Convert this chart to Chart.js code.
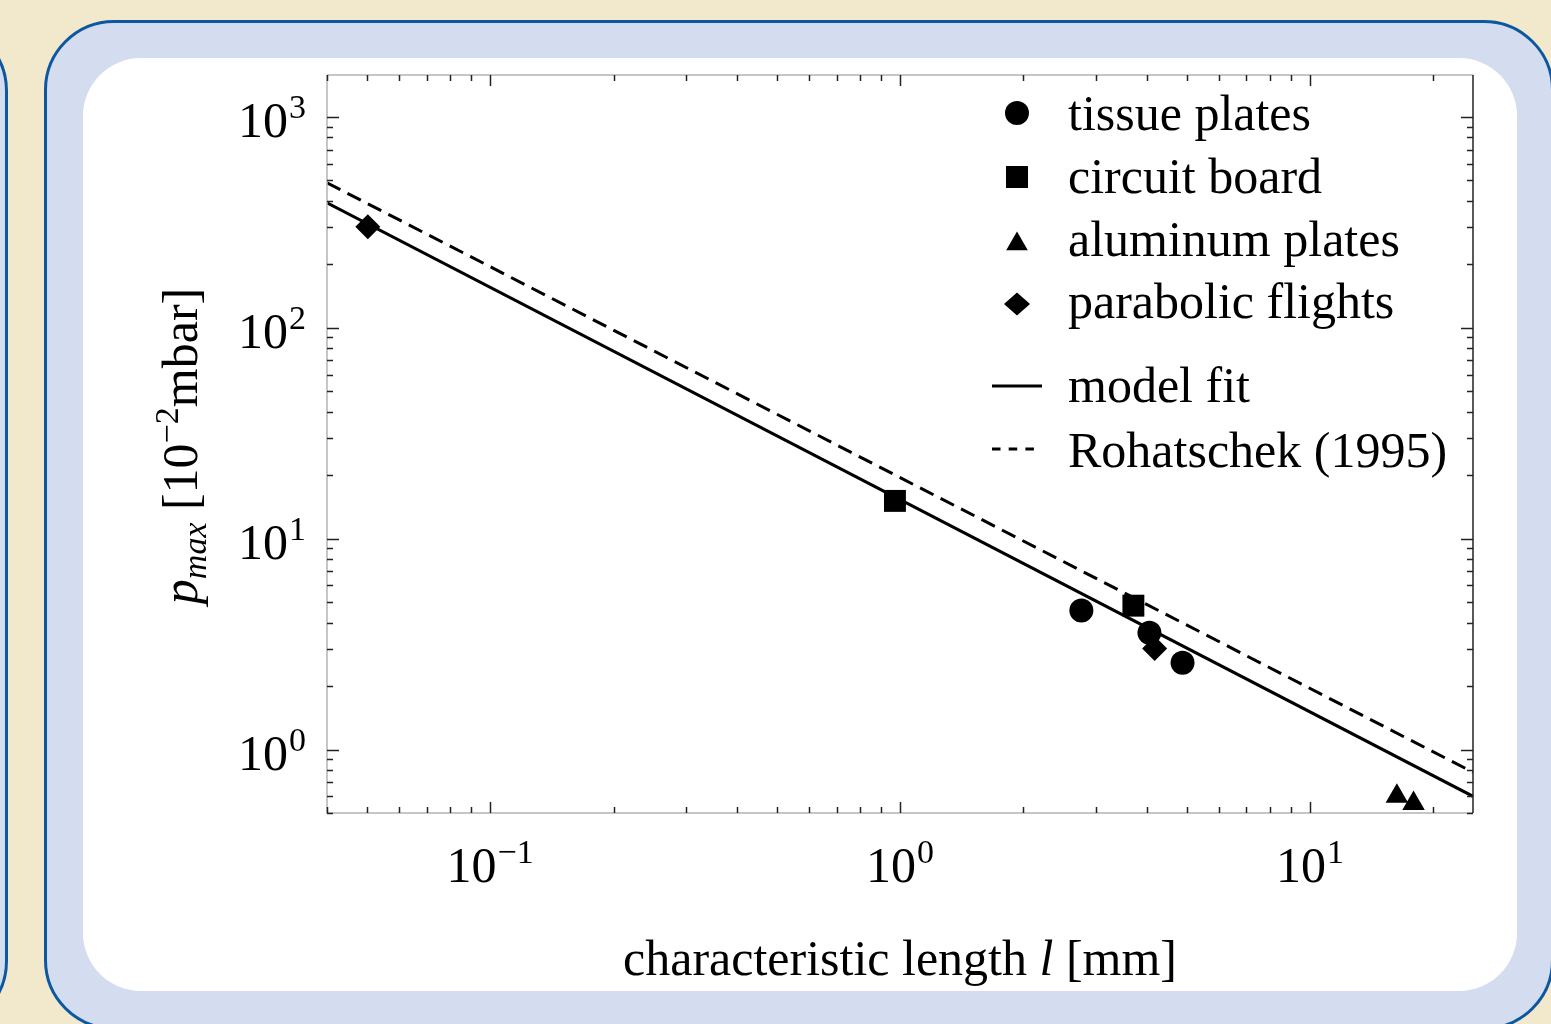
<!DOCTYPE html>
<html lang="en">
<head>
<meta charset="UTF-8">
<title>p_max vs characteristic length</title>
<style>
    body {
        margin: 0;
        width: 1551px;
        height: 1024px;
        overflow: hidden;
        background: #f2e8cb;
        position: relative;
    }
    .panel {
        position: absolute;
        box-sizing: border-box;
        background: #d4ddef;
        border: 3px solid #0c57a2;
        border-radius: 70px;
    }
    .inner {
        position: absolute;
        background: #fff;
        border-radius: 58px;
    }
    #chart {
        position: absolute;
        left: 0;
        top: 0;
    }
</style>
<script src="https://cdn.jsdelivr.net/npm/chart.js@4.4.0/dist/chart.umd.min.js"></script>
</head>
<body>
<div class="panel" style="left:-1000px; top:21px; width:1008px; height:1010px;"></div>
<div class="panel" style="left:44px; top:20px; width:1510px; height:1010px;"></div>
<div class="inner" style="left:83px; top:58px; width:1434px; height:933px;"></div>
<canvas id="chart" width="1551" height="1024"></canvas>
<script>
    // values (mm, 10^-2 mbar)
    const tissueX = [2.77, 4.06, 4.89];
    const tissueY = [4.56, 3.58, 2.58];
    const circuitX = [0.972, 3.71];
    const circuitY = [15.1, 4.81];
    const aluminumX = [16.3, 17.9];
    const aluminumY = [0.60, 0.555];
    const parabolicX = [0.0503, 4.18];
    const parabolicY = [301, 3.01];

    const fitX = [0.04, 25];
    const fitY = [391, 0.6];
    const rohatschekY = [487, 0.78];

    const xMajor = [0.1, 1, 10];
    const xMajorExp = ["\u22121", "0", "1"];
    const yMajor = [1, 10, 100, 1000];
    const yMajorExp = ["0", "1", "2", "3"];

    const legendLabels = ["tissue plates", "circuit board", "aluminum plates", "parabolic flights", "model fit", "Rohatschek (1995)"];

    const SERIF = "'Liberation Serif', 'Times New Roman', serif";

    function pts(xs, ys) {
        return xs.map((x, i) => ({ x: x, y: ys[i] }));
    }

    function marker(ctx, style, x, y, r) {
        ctx.beginPath();
        if (style === "circle") {
            ctx.arc(x, y, r, 0, Math.PI * 2);
        } else if (style === "rect") {
            ctx.rect(x - r, y - r, 2 * r, 2 * r);
        } else if (style === "triangle") {
            ctx.moveTo(x, y - r);
            ctx.lineTo(x + r * 0.866, y + r * 0.5);
            ctx.lineTo(x - r * 0.866, y + r * 0.5);
            ctx.closePath();
        } else {
            ctx.moveTo(x, y - r * 0.88);
            ctx.lineTo(x + r, y);
            ctx.lineTo(x, y + r * 0.88);
            ctx.lineTo(x - r, y);
            ctx.closePath();
        }
        ctx.fill();
    }

    // "10" with a superscript exponent; align: 'center' or 'right'
    function drawPower(ctx, exp, x, y, align) {
        ctx.font = "50px " + SERIF;
        const wb = ctx.measureText("10").width;
        ctx.font = "34px " + SERIF;
        const we = ctx.measureText(exp).width;
        const total = wb + we + 1;
        let x0 = align === "center" ? x - total / 2 : x - total;
        ctx.textAlign = "left";
        ctx.textBaseline = "alphabetic";
        ctx.font = "50px " + SERIF;
        ctx.fillText("10", x0, y);
        ctx.font = "34px " + SERIF;
        ctx.fillText(exp, x0 + wb + 1, y - 19);
    }

    function logTicks(min, max) {
        const out = [];
        for (let e = Math.floor(Math.log10(min)); e <= Math.ceil(Math.log10(max)); e++) {
            for (let m = 1; m <= 9; m++) {
                const v = m * Math.pow(10, e);
                if (v >= min * 0.999 && v <= max * 1.001) out.push({ v: v, major: m === 1 });
            }
        }
        return out;
    }

    const framePlugin = {
        id: "framePlugin",
        afterDraw(chart) {
            const ctx = chart.ctx;
            const a = chart.chartArea;
            const xs = chart.scales.x;
            const ys = chart.scales.y;
            ctx.save();

            // frame
            ctx.lineWidth = 1.5;
            ctx.strokeStyle = "#b4b4b4";
            ctx.beginPath();
            ctx.moveTo(a.left, a.top);
            ctx.lineTo(a.right, a.top);
            ctx.moveTo(a.left, a.top);
            ctx.lineTo(a.left, a.bottom);
            ctx.lineTo(a.right, a.bottom);
            ctx.stroke();
            ctx.strokeStyle = "#222";
            ctx.beginPath();
            ctx.moveTo(a.right, a.top);
            ctx.lineTo(a.right, a.bottom);
            ctx.stroke();

            // ticks
            ctx.strokeStyle = "#222";
            ctx.lineWidth = 1.5;
            ctx.beginPath();
            logTicks(xs.min, xs.max).forEach(t => {
                const px = Math.round(xs.getPixelForValue(t.v)) + 0.5;
                const len = t.major ? 11 : 6;
                ctx.moveTo(px, a.bottom);
                ctx.lineTo(px, a.bottom - len);
                ctx.moveTo(px, a.top);
                ctx.lineTo(px, a.top + len);
            });
            logTicks(ys.min, ys.max).forEach(t => {
                const py = Math.round(ys.getPixelForValue(t.v)) + 0.5;
                const len = t.major ? 12 : 6;
                ctx.moveTo(a.left, py);
                ctx.lineTo(a.left + len, py);
                ctx.moveTo(a.right, py);
                ctx.lineTo(a.right - len, py);
            });
            ctx.stroke();

            // tick labels
            ctx.fillStyle = "#000";
            xMajor.forEach((v, i) => {
                drawPower(ctx, xMajorExp[i], xs.getPixelForValue(v), 882, "center");
            });
            yMajor.forEach((v, i) => {
                drawPower(ctx, yMajorExp[i], 306, ys.getPixelForValue(v) + 20, "right");
            });

            // x axis title
            ctx.textBaseline = "alphabetic";
            ctx.textAlign = "left";
            const parts = [
                ["characteristic length ", "50px " + SERIF],
                ["l", "italic 50px " + SERIF],
                [" [mm]", "50px " + SERIF]
            ];
            let w = 0;
            parts.forEach(p => { ctx.font = p[1]; w += ctx.measureText(p[0]).width; });
            let cx = (a.left + a.right) / 2 - w / 2;
            parts.forEach(p => {
                ctx.font = p[1];
                ctx.fillText(p[0], cx, 975);
                cx += ctx.measureText(p[0]).width;
            });

            // y axis title (rotated)
            const yparts = [
                ["p", "italic 50px " + SERIF, 0],
                ["max", "italic 34px " + SERIF, 9],
                [" [10", "50px " + SERIF, 0],
                ["\u22122", "34px " + SERIF, -19],
                ["mbar]", "50px " + SERIF, 0]
            ];
            w = 0;
            yparts.forEach(p => { ctx.font = p[1]; w += ctx.measureText(p[0]).width; });
            ctx.save();
            ctx.translate(197, (a.top + a.bottom) / 2 + 2);
            ctx.rotate(-Math.PI / 2);
            let u = -w / 2;
            yparts.forEach(p => {
                ctx.font = p[1];
                ctx.fillText(p[0], u, p[2]);
                u += ctx.measureText(p[0]).width;
            });
            ctx.restore();

            // legend
            const styles = ["circle", "rect", "triangle", "rectRot"];
            const sizes = [12, 11, 12.5, 13];
            const markY = [113, 177, 244, 304];
            const textY = [130, 193, 256, 318, 402, 467];
            ctx.fillStyle = "#000";
            styles.forEach((s, i) => marker(ctx, s, 1017, markY[i], sizes[i]));
            ctx.lineWidth = 3;
            ctx.strokeStyle = "#000";
            ctx.beginPath();
            ctx.moveTo(992, 386);
            ctx.lineTo(1042, 386);
            ctx.stroke();
            ctx.setLineDash([8.5, 8.2]);
            ctx.beginPath();
            ctx.moveTo(992, 449);
            ctx.lineTo(1042, 449);
            ctx.stroke();
            ctx.setLineDash([]);
            ctx.font = "50px " + SERIF;
            ctx.textAlign = "left";
            legendLabels.forEach((t, i) => ctx.fillText(t, 1068, textY[i]));

            ctx.restore();
        }
    };

    const black = "#000";
    const chart = new Chart(document.getElementById("chart"), {
        type: "scatter",
        data: {
            datasets: [
                { label: legendLabels[0], data: pts(tissueX, tissueY), pointStyle: "circle", pointRadius: 12, backgroundColor: black, borderColor: black, borderWidth: 0 },
                { label: legendLabels[1], data: pts(circuitX, circuitY), pointStyle: "rect", pointRadius: 15.5, backgroundColor: black, borderColor: black, borderWidth: 0 },
                { label: legendLabels[2], data: pts(aluminumX, aluminumY), pointStyle: "triangle", pointRadius: 13, backgroundColor: black, borderColor: black, borderWidth: 0 },
                { label: legendLabels[3], data: pts(parabolicX, parabolicY), pointStyle: "rectRot", pointRadius: 12.5, backgroundColor: black, borderColor: black, borderWidth: 0 },
                { label: legendLabels[4], data: pts(fitX, fitY), showLine: true, pointRadius: 0, borderColor: black, borderWidth: 3 },
                { label: legendLabels[5], data: pts(fitX, rohatschekY), showLine: true, pointRadius: 0, borderColor: black, borderWidth: 3, borderDash: [15, 8] }
            ]
        },
        options: {
            responsive: false,
            animation: false,
            events: [],
            layout: { padding: { left: 327, right: 78, top: 75, bottom: 211 } },
            scales: {
                x: { type: "logarithmic", min: 0.04, max: 25, display: false },
                y: { type: "logarithmic", min: 0.5, max: 1580, display: false }
            },
            plugins: {
                legend: { display: false },
                tooltip: { enabled: false }
            }
        },
        plugins: [framePlugin]
    });
</script>
</body>
</html>
